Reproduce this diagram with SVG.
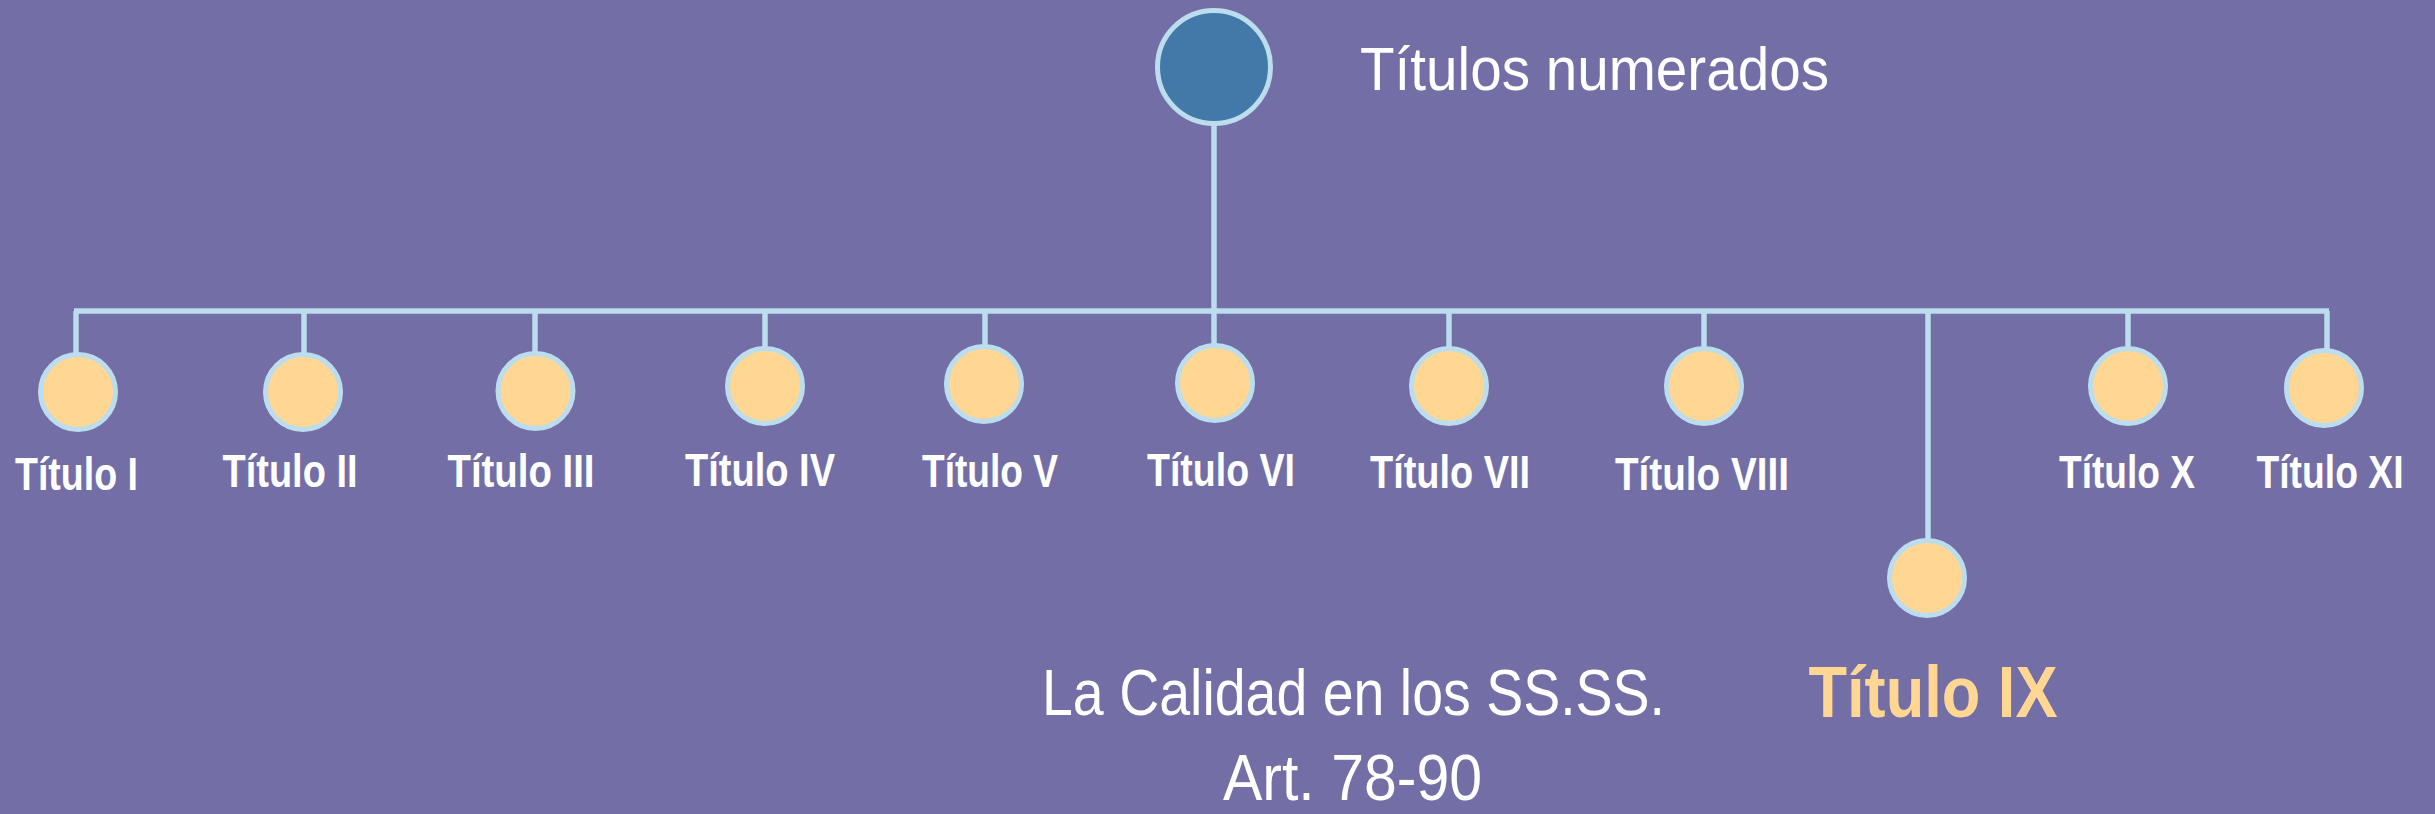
<svg xmlns="http://www.w3.org/2000/svg" width="2435" height="814" viewBox="0 0 2435 814">
<style>
.bg{fill:#736EA6}
.ln{stroke:#BBDDEE;stroke-width:5.5;fill:none;stroke-linecap:butt}
.nd{fill:#FFD793;stroke:#BBDDEE;stroke-width:5}
.root{fill:#4279A8;stroke:#BBDDEE;stroke-width:5}
.lbl{font-family:"Liberation Sans Narrow","Liberation Sans",Arial,sans-serif;font-weight:bold;font-size:46px;fill:#FFFFFF;text-anchor:middle}
.big{font-family:"Liberation Sans Narrow","Liberation Sans",Arial,sans-serif;fill:#FFFFFF}
</style>
<defs>
<pattern id="stripe" width="8" height="8" patternUnits="userSpaceOnUse" patternTransform="rotate(45)">
<rect width="8" height="8" fill="#736EA6"/>
<rect width="1" height="8" fill="#7873AB"/>
</pattern>
</defs>
<rect class="bg" x="0" y="0" width="2435" height="814" fill="url(#stripe)"/>
<g id="connectors">
<line class="ln" x1="1214" y1="124" x2="1214" y2="311"/>
<line class="ln" x1="74" y1="311" x2="2329" y2="311"/>
<line class="ln" x1="76" y1="311" x2="76" y2="354"/>
<line class="ln" x1="304" y1="311" x2="304" y2="353"/>
<line class="ln" x1="535" y1="311" x2="535" y2="353"/>
<line class="ln" x1="765" y1="311" x2="765" y2="347"/>
<line class="ln" x1="985" y1="311" x2="985" y2="345"/>
<line class="ln" x1="1214" y1="311" x2="1214" y2="345"/>
<line class="ln" x1="1449" y1="311" x2="1449" y2="347"/>
<line class="ln" x1="1704" y1="311" x2="1704" y2="347"/>
<line class="ln" x1="1928" y1="311" x2="1928" y2="539"/>
<line class="ln" x1="2128" y1="311" x2="2128" y2="347"/>
<line class="ln" x1="2327" y1="311" x2="2327" y2="349"/>
</g>
<g id="root">
<circle class="root" cx="1214" cy="67" r="56.5"/>
<text class="big" x="1360" y="90" font-size="62" textLength="469" lengthAdjust="spacingAndGlyphs">Títulos numerados</text>
</g>
<g id="t1"><circle class="nd" cx="78" cy="392" r="37.5"/><text class="lbl" x="76.5" y="490" textLength="123" lengthAdjust="spacingAndGlyphs">Título I</text></g>
<g id="t2"><circle class="nd" cx="303" cy="392" r="37.5"/><text class="lbl" x="290" y="487" textLength="135" lengthAdjust="spacingAndGlyphs">Título II</text></g>
<g id="t3"><circle class="nd" cx="535.5" cy="391" r="37.5"/><text class="lbl" x="521" y="487" textLength="147" lengthAdjust="spacingAndGlyphs">Título III</text></g>
<g id="t4"><circle class="nd" cx="765" cy="386" r="37.5"/><text class="lbl" x="760" y="486" textLength="150" lengthAdjust="spacingAndGlyphs">Título IV</text></g>
<g id="t5"><circle class="nd" cx="984" cy="384" r="37.5"/><text class="lbl" x="990" y="487" textLength="136" lengthAdjust="spacingAndGlyphs">Título V</text></g>
<g id="t6"><circle class="nd" cx="1215" cy="383" r="37.5"/><text class="lbl" x="1221" y="486" textLength="148" lengthAdjust="spacingAndGlyphs">Título VI</text></g>
<g id="t7"><circle class="nd" cx="1449" cy="386" r="37.5"/><text class="lbl" x="1450" y="488" textLength="160" lengthAdjust="spacingAndGlyphs">Título VII</text></g>
<g id="t8"><circle class="nd" cx="1704" cy="386" r="37.5"/><text class="lbl" x="1702" y="490" textLength="174" lengthAdjust="spacingAndGlyphs">Título VIII</text></g>
<g id="t9"><circle class="nd" cx="1927" cy="578" r="37.5"/><text class="lbl" x="1933" y="717" style="fill:#FFD793;font-size:72px" textLength="249" lengthAdjust="spacingAndGlyphs">Título IX</text></g>
<g id="t10"><circle class="nd" cx="2128" cy="386" r="37.5"/><text class="lbl" x="2127" y="488" textLength="136" lengthAdjust="spacingAndGlyphs">Título X</text></g>
<g id="t11"><circle class="nd" cx="2324" cy="388" r="37.5"/><text class="lbl" x="2330" y="488" textLength="147" lengthAdjust="spacingAndGlyphs">Título XI</text></g>
<g id="caption">
<text class="big" x="1042" y="715" font-size="64" textLength="623" lengthAdjust="spacingAndGlyphs">La Calidad en los SS.SS.</text>
<text class="big" x="1223" y="800" font-size="64" textLength="259" lengthAdjust="spacingAndGlyphs">Art. 78-90</text>
</g>
</svg>
